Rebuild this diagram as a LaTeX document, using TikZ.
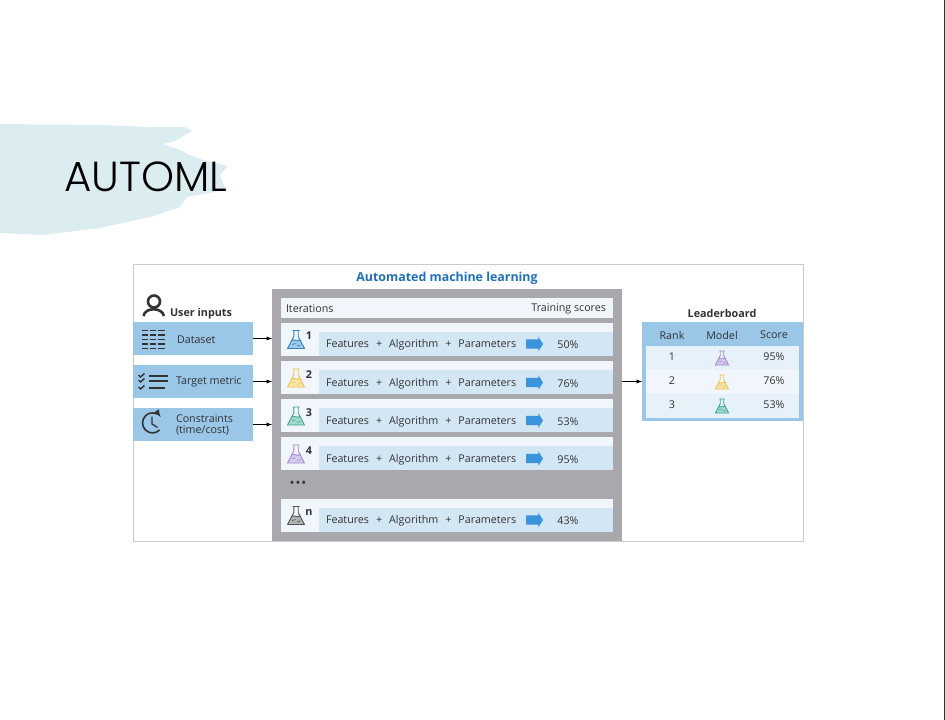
\documentclass[tikz,border=0pt]{standalone}
\usepackage{fontspec}
\setmainfont{Open Sans}
\newfontfamily\titlefont[UprightFont=* Light]{Poppins}
\usetikzlibrary{shapes.arrows}

\definecolor{brushblue}{HTML}{DCEDF2}
\definecolor{framegray}{HTML}{CBCBCB}
\definecolor{panelgray}{HTML}{A9A9AD}
\definecolor{inputblue}{HTML}{9AC6E8}
\definecolor{rowpale}{HTML}{F1F6FC}
\definecolor{rowblue}{HTML}{D3E6F4}
\definecolor{stripeblue}{HTML}{E6F1F9}
\definecolor{titleblue}{HTML}{1F70B8}
\definecolor{arrowblue}{HTML}{3A94DC}
\definecolor{inktext}{HTML}{333333}
\definecolor{flaskblue}{HTML}{2E86C8}
\definecolor{flaskyellow}{HTML}{F0C64A}
\definecolor{flaskteal}{HTML}{3CA88F}
\definecolor{flaskpurple}{HTML}{A18BD0}
\definecolor{flaskdark}{HTML}{555555}

\tikzset{
  plainbox/.style={inner sep=0pt, outer sep=0pt, text=inktext},
  inputbox/.style={plainbox, fill=inputblue, minimum width=120, minimum height=33},
  rowbox/.style={plainbox, fill=rowpale, minimum width=332, minimum height=33},
  bandbox/.style={plainbox, fill=rowblue, minimum width=294, minimum height=24},
  small/.style={plainbox, font=\fontsize{10.7}{11.5}\selectfont},
  heading/.style={plainbox, font=\fontsize{10.8}{12}\selectfont\bfseries},
  flow/.style={-latex, black, line width=.9pt},
  scorearrow/.style={shape=single arrow, fill=arrowblue, inner sep=4.5pt, outer sep=0pt,
    single arrow head extend=2.5pt, single arrow tip angle=115, minimum width=14, minimum height=17},
  iconline/.style={inktext, line width=1.9pt},
  flaskicon/.pic={
    \fill[#1!45] (-7.5,7) -- (-3.6,0) -- (3.6,0) -- (7.5,7) -- (8.5,9) -- (-8.5,9) -- cycle;
    \draw[#1, line width=.9pt, line join=round] (-3.5,-9) -- (3.5,-9)
      (-2.2,-9) -- (-2.2,-3) -- (-8.5,9) -- (8.5,9) -- (2.2,-3) -- (2.2,-9);
    \draw[#1, line width=.8pt] (-4.5,1) .. controls (-1.5,-1) and (1,3) .. (5,.5);
    \draw[#1, line width=.7pt] (-4,5) -- (-.5,4) (1,6.5) -- (4.5,5.5);
  }
}

\begin{document}
\begin{tikzpicture}[x=1pt, y=-1pt]
  \useasboundingbox (0,0) rectangle (945,720);
  \fill[white] (0,0) rectangle (945,720);
  \draw[inktext, line width=1pt] (944.5,0) -- (944.5,720);

  % brush stroke
  \fill[brushblue] (0,124) -- (100,125) -- (150,127) -- (185,127) -- (192,131) -- (175,141)
    -- (163,144) -- (180,150) -- (190,155) -- (200,159) -- (228,166) -- (220,175)
    -- (226,190) -- (187,197) -- (180,207) -- (150,217) -- (100,228) -- (43,235)
    -- (0,233) -- cycle;
  \node[plainbox, text=black, font=\titlefont\fontsize{42}{46}\selectfont] (maintitle) at (146,177) {AUTOML};

  % frame and panel
  \node[plainbox, draw=framegray, fill=white, minimum width=670, minimum height=277] (frame) at (468,402.5) {};
  \node[plainbox, text=titleblue, font=\fontsize{12.4}{14}\selectfont\bfseries] (automl) at (447,278) {Automated machine learning};
  \node[plainbox, fill=panelgray, minimum width=350, minimum height=252] (panel) at (447,415) {};
  \node[plainbox, fill=rowpale, minimum width=332, minimum height=20] (header) at (447,308) {};
  \node[small, anchor=west] (iterations) at (286,309) {Iterations};
  \node[small, anchor=east] (training) at (606,309) {Training scores};

  % user inputs
  \draw[iconline, line width=2.6pt] (154,301.5) circle (6);
  \draw[iconline, line width=2.6pt] (143.5,316) .. controls (145,307) and (162,307) .. (164,316);
  \node[heading, anchor=west] (userinputs) at (170,314) {User inputs};
  \node[inputbox] (dataset) at (193,338.5) {};
  \node[inputbox] (target) at (193,381.5) {};
  \node[inputbox] (constraints) at (193,424.5) {};
  \node[small, anchor=west] (datasetlabel) at (177,340) {Dataset};
  \node[small, anchor=west] (targetlabel) at (176,382) {Target metric};
  \node[small, anchor=west, align=left, font=\fontsize{10.7}{11.5}\selectfont] (constraintslabel) at (176,425) {Constraints\\(time/cost)};

  \foreach \y in {330.5,335,339.5,344,348.5} {
    \draw[iconline] (142,\y) -- (147.5,\y) (149.5,\y) -- (155.5,\y) (157.5,\y) -- (165,\y);
  }
  \foreach \y/\xend in {376/168,381/168,388/165} {
    \draw[iconline, line width=1.4pt] (138.5,\y-1) -- (140.5,\y+1) -- (144.5,\y-2.5);
    \draw[iconline, line width=2pt] (149,\y) -- (\xend,\y);
  }
  \draw[iconline, line width=1.6pt, ->, >=latex] (159.6,430) arc (45:325:10);
  \draw[iconline, line width=1.3pt] (152,416.5) -- (152,424) -- (157.5,427.5);

  % iterations
  \foreach \n/\y/\lab/\colr/\score in {1/339/1/flaskblue/50\%,2/377.5/2/flaskyellow/76\%,3/415.5/3/flaskteal/53\%,4/453.5/4/flaskpurple/95\%,5/515/n/flaskdark/43\%} {
    \node[rowbox] (row\n) at (447,\y) {};
    \node[bandbox] (band\n) at (466,\y+4.5) {};
    \pic at (296,\y+.5) {flaskicon=\colr};
    \node[heading] (num\n) at (309,\y-3) {\lab};
    \node[small, anchor=west] (formula\n) at (326,\y+6) {Features\hspace{7pt}+\hspace{7pt}Algorithm\hspace{7pt}+\hspace{7pt}Parameters};
    \node[scorearrow] (go\n) at (533,\y+5) {};
    \node[small] (score\n) at (568,\y+6) {\score};
  }
  \node[plainbox, text=inktext, font=\fontsize{13}{14}\selectfont] (dots) at (298,484) {•\hspace{1pt}•\hspace{1pt}•};

  % leaderboard
  \node[heading] (leadtitle) at (722,313) {Leaderboard};
  \node[plainbox, fill=inputblue, minimum width=161, minimum height=99] (lead) at (722.5,371.5) {};
  \node[plainbox, fill=stripeblue, minimum width=153, minimum height=24] (lead1) at (722.5,357.5) {};
  \node[plainbox, fill=rowpale, minimum width=153, minimum height=24] (lead2) at (722.5,381.5) {};
  \node[plainbox, fill=stripeblue, minimum width=153, minimum height=24] (lead3) at (722.5,405.5) {};
  \node[small] (rankhead) at (672,335) {Rank};
  \node[small] (modelhead) at (722,335) {Model};
  \node[small] (scorehead) at (774,335) {Score};
  \foreach \n/\y/\colr/\score in {1/357/flaskpurple/95\%,2/381/flaskyellow/76\%,3/405/flaskteal/53\%} {
    \node[small] (rank\n) at (672,\y) {\n};
    \pic[scale=.78] at (722,\y+1) {flaskicon=\colr};
    \node[small] (leadscore\n) at (774,\y) {\score};
  }

  % connectors
  \draw[flow] (dataset.east) -- (dataset.east -| panel.west);
  \draw[flow] (target.east) -- (target.east -| panel.west);
  \draw[flow] (constraints.east) -- (constraints.east -| panel.west);
  \draw[flow] (target.east -| panel.east) -- (target.east -| lead.west);
\end{tikzpicture}
\end{document}
